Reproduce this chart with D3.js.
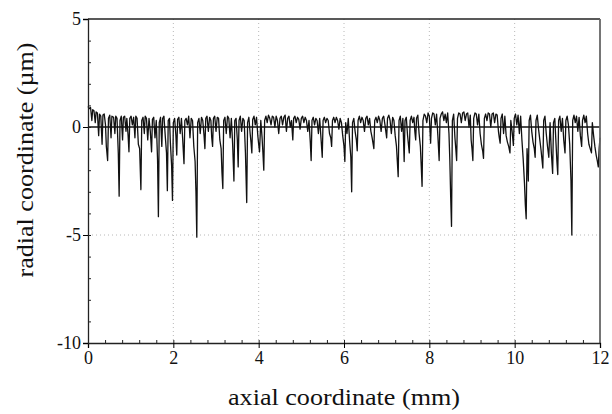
<!DOCTYPE html>
<html>
<head>
<meta charset="utf-8">
<script src="https://cdn.jsdelivr.net/npm/d3@7"></script>
<style>
  body { margin: 0; background: #fff; }
  svg { display: block; }
  text { font-family: "Liberation Serif", "DejaVu Serif", serif; fill: #111; }
</style>
</head>
<body>
<svg id="chart" width="612" height="414"></svg>
<script>
// tick values
var xTicks = [0, 2, 4, 6, 8, 10, 12]
var yTicks = [5, 0, -5, -10]
var xGrid = [2, 4, 6, 8, 10]
var yGrid = [-5]

// surface profile: [axial mm, radial um]
var profile = [
  [0.00, 0.95], [0.03, 0.85], [0.06, 0.9], [0.09, 0.3], [0.11, 0.8], [0.14, 0.75], [0.17, 0.2], [0.19, 0.7],
  [0.22, 0.65], [0.25, -0.4], [0.27, 0.6], [0.30, 0.5], [0.33, -0.8], [0.35, 0.55], [0.38, 0.6], [0.41, 0.1],
  [0.43, -0.9], [0.46, -1.55], [0.48, 0.4], [0.51, 0.55], [0.54, -0.5], [0.56, 0.5], [0.60, 0.45], [0.63, -0.3],
  [0.65, 0.5], [0.68, 0.4], [0.71, -1.2], [0.73, -3.2], [0.75, 0.3], [0.78, 0.5], [0.81, -0.6], [0.83, 0.45],
  [0.86, 0.5], [0.89, -0.2], [0.91, 0.4], [0.94, -0.4], [0.96, -1.15], [0.98, 0.4], [1.01, 0.5], [1.04, 0.1],
  [1.07, 0.45], [1.10, -0.5], [1.12, 0.5], [1.15, 0.4], [1.18, -0.8], [1.21, -1.0], [1.24, -2.9], [1.26, 0.3],
  [1.29, 0.45], [1.32, -0.3], [1.34, 0.5], [1.37, 0.4], [1.40, -0.6], [1.43, 0.4], [1.46, -0.2], [1.49, -1.15],
  [1.51, 0.35], [1.54, 0.45], [1.57, -0.5], [1.60, 0.3], [1.63, -1.5], [1.65, -4.15], [1.67, 0.2], [1.70, 0.45],
  [1.73, -0.9], [1.75, 0.4], [1.78, 0.5], [1.81, -0.4], [1.84, -1.2], [1.86, -2.95], [1.88, 0.3], [1.91, 0.4],
  [1.93, -0.7], [1.96, -1.8], [1.98, -3.4], [2.00, 0.2], [2.03, 0.4], [2.06, -0.4], [2.08, -1.3], [2.10, 0.35],
  [2.13, 0.45], [2.16, -0.3], [2.19, 0.4], [2.22, -0.6], [2.25, -1.7], [2.27, 0.3], [2.30, 0.4], [2.33, 0.1],
  [2.36, 0.5], [2.39, -0.5], [2.42, 0.4], [2.45, 0.3], [2.48, -0.9], [2.51, -1.6], [2.53, -3.0], [2.55, -5.1],
  [2.57, 0.2], [2.60, 0.4], [2.63, -0.3], [2.66, 0.45], [2.69, 0.3], [2.72, -0.4], [2.74, -1.0], [2.76, 0.4],
  [2.79, 0.5], [2.82, -0.2], [2.85, 0.45], [2.88, 0.3], [2.90, -0.5], [2.92, -0.9], [2.94, 0.4], [2.97, 0.5],
  [3.00, -0.2], [3.03, 0.45], [3.06, 0.4], [3.09, -0.6], [3.12, -1.0], [3.14, -2.1], [3.16, -2.85], [3.18, 0.3],
  [3.21, 0.45], [3.24, -0.3], [3.27, 0.5], [3.30, 0.4], [3.33, -0.5], [3.36, 0.4], [3.39, -0.8], [3.42, -2.5],
  [3.44, 0.3], [3.47, 0.4], [3.50, -0.6], [3.52, -1.85], [3.54, 0.3], [3.57, 0.5], [3.60, -0.2], [3.63, 0.4],
  [3.66, 0.3], [3.69, -1.2], [3.72, -3.5], [3.74, 0.2], [3.77, 0.45], [3.80, -0.3], [3.82, -0.7], [3.84, -1.2],
  [3.86, 0.35], [3.89, 0.5], [3.92, 0.1], [3.95, 0.45], [3.98, -0.4], [4.00, -0.8], [4.02, -1.15], [4.05, 0.3],
  [4.08, -0.5], [4.10, -1.2], [4.12, -2.0], [4.14, 0.3], [4.17, 0.5], [4.20, 0.2], [4.23, 0.55], [4.26, 0.4],
  [4.29, 0.1], [4.32, 0.5], [4.35, 0.45], [4.38, 0.0], [4.41, 0.5], [4.44, 0.3], [4.47, -0.3], [4.50, 0.4],
  [4.53, 0.5], [4.56, 0.1], [4.59, 0.45], [4.62, 0.55], [4.65, -0.2], [4.68, 0.4], [4.71, 0.5], [4.74, 0.0],
  [4.77, 0.3], [4.80, -0.6], [4.82, 0.4], [4.85, 0.5], [4.88, 0.2], [4.91, 0.45], [4.94, 0.35], [4.97, -0.1],
  [5.00, 0.4], [5.03, 0.5], [5.06, 0.2], [5.09, 0.45], [5.12, 0.3], [5.15, -0.2], [5.18, 0.3], [5.21, -0.7],
  [5.23, -1.55], [5.25, 0.3], [5.28, 0.45], [5.31, 0.1], [5.34, 0.4], [5.37, 0.3], [5.40, -0.3], [5.43, 0.4],
  [5.46, -0.5], [5.49, -1.4], [5.51, 0.3], [5.54, 0.45], [5.57, 0.2], [5.60, 0.4], [5.63, 0.3], [5.66, -0.3],
  [5.69, -0.5], [5.71, -0.9], [5.73, 0.3], [5.76, 0.45], [5.79, 0.2], [5.82, 0.45], [5.85, 0.3], [5.88, -0.1],
  [5.91, 0.4], [5.94, 0.2], [5.97, -0.4], [6.00, -0.9], [6.02, -1.6], [6.04, 0.2], [6.07, -0.3], [6.10, 0.4],
  [6.13, -0.6], [6.16, -1.4], [6.18, -3.0], [6.20, 0.2], [6.23, 0.4], [6.26, -0.2], [6.29, -0.6], [6.31, -1.1],
  [6.33, 0.3], [6.36, 0.5], [6.39, 0.2], [6.42, 0.45], [6.45, 0.3], [6.48, -0.2], [6.51, 0.4], [6.54, 0.5],
  [6.57, 0.1], [6.60, 0.4], [6.63, -0.2], [6.66, -0.5], [6.70, -1.0], [6.72, 0.3], [6.75, 0.45], [6.78, 0.2],
  [6.81, 0.5], [6.84, 0.3], [6.87, -0.2], [6.90, 0.4], [6.93, 0.5], [6.96, 0.1], [6.98, -0.2], [7.00, -0.5],
  [7.02, 0.4], [7.05, 0.55], [7.08, 0.3], [7.11, -0.3], [7.14, 0.45], [7.17, 0.3], [7.20, -0.4], [7.23, -0.9],
  [7.25, -1.6], [7.27, -2.3], [7.29, 0.3], [7.32, 0.5], [7.35, -0.2], [7.38, 0.4], [7.41, -1.6], [7.43, 0.3],
  [7.46, 0.45], [7.49, -0.4], [7.51, -0.8], [7.53, -1.2], [7.55, 0.3], [7.58, 0.5], [7.61, 0.2], [7.64, 0.45],
  [7.66, -0.2], [7.68, -0.6], [7.70, 0.4], [7.73, 0.55], [7.76, -0.3], [7.79, -0.9], [7.81, -1.8], [7.83, -2.75],
  [7.85, 0.3], [7.88, 0.6], [7.91, 0.5], [7.94, 0.2], [7.97, 0.65], [8.00, 0.5], [8.03, -0.75], [8.05, 0.4],
  [8.08, 0.65], [8.11, 0.6], [8.14, 0.1], [8.17, 0.6], [8.20, -0.4], [8.23, -1.55], [8.25, 0.4], [8.28, 0.6],
  [8.31, 0.7], [8.34, 0.3], [8.37, 0.6], [8.40, 0.2], [8.43, 0.65], [8.46, -0.3], [8.48, -1.5], [8.50, -3.2],
  [8.52, -4.6], [8.54, 0.3], [8.57, 0.6], [8.60, -0.5], [8.62, -1.0], [8.64, -1.55], [8.66, 0.4], [8.69, 0.65],
  [8.72, 0.6], [8.75, 0.2], [8.78, 0.65], [8.81, 0.7], [8.84, 0.3], [8.87, 0.6], [8.90, 0.65], [8.93, 0.0],
  [8.96, 0.55], [8.98, -0.6], [9.00, -1.0], [9.02, -1.55], [9.04, 0.4], [9.07, 0.65], [9.10, 0.6], [9.13, 0.1],
  [9.16, 0.6], [9.19, -0.3], [9.22, -0.8], [9.25, -1.1], [9.27, -1.45], [9.29, 0.4], [9.32, 0.6], [9.35, 0.3],
  [9.38, 0.65], [9.41, 0.6], [9.44, 0.0], [9.47, 0.6], [9.50, 0.65], [9.53, 0.2], [9.56, 0.6], [9.59, 0.55],
  [9.62, -0.2], [9.64, -0.5], [9.66, -0.75], [9.68, 0.4], [9.71, 0.6], [9.74, -0.3], [9.77, 0.5], [9.80, -0.4],
  [9.83, -0.7], [9.86, -0.9], [9.89, -1.2], [9.91, 0.3], [9.94, -0.2], [9.97, -0.85], [9.99, 0.4], [10.02, 0.6],
  [10.05, 0.1], [10.08, 0.55], [10.11, -0.3], [10.14, 0.5], [10.17, -0.6], [10.20, -1.5], [10.23, -2.6], [10.25, -3.6],
  [10.27, -4.25], [10.29, -1.0], [10.31, -1.8], [10.32, -2.5], [10.34, 0.3], [10.37, 0.55], [10.40, -0.2], [10.43, -0.7],
  [10.46, -1.0], [10.48, -1.4], [10.50, 0.3], [10.53, 0.55], [10.56, -0.1], [10.59, -0.6], [10.62, -1.1], [10.64, -1.5],
  [10.66, -1.9], [10.68, 0.3], [10.71, 0.5], [10.74, -0.3], [10.77, -0.9], [10.80, -1.4], [10.83, 0.2], [10.86, -1.2],
  [10.89, -2.15], [10.91, 0.2], [10.94, 0.4], [10.97, -0.8], [10.99, -1.6], [11.01, -2.2], [11.03, 0.3], [11.06, 0.5],
  [11.09, -0.2], [11.12, 0.4], [11.15, -0.6], [11.18, -1.2], [11.20, 0.3], [11.23, 0.5], [11.26, 0.1], [11.29, -0.8],
  [11.32, -2.5], [11.34, -5.0], [11.36, 0.3], [11.39, 0.55], [11.42, 0.2], [11.45, 0.5], [11.48, -0.2], [11.51, 0.45],
  [11.54, -0.4], [11.57, -0.9], [11.59, 0.3], [11.62, 0.55], [11.65, 0.2], [11.68, 0.5], [11.71, -0.3], [11.74, -0.8],
  [11.77, -1.0], [11.80, -1.2], [11.82, 0.2], [11.85, -0.4], [11.88, -0.9], [11.91, -1.3], [11.94, -1.6], [11.96, -1.85],
  [11.98, -1.0], [12.00, -0.5]
]

var margin = { top: 19, left: 88, right: 12, bottom: 71 }
var width = 612 - margin.left - margin.right
var height = 414 - margin.top - margin.bottom

var svg = d3.select("#chart")
var g = svg.append("g")
    .attr("transform", "translate(" + margin.left + "," + margin.top + ")")

var x = d3.scaleLinear().domain([0, 12]).range([0, width])
var y = d3.scaleLinear().domain([-10, 5]).range([height, 0])

// dotted grid
g.selectAll(".xgrid")
    .data(xGrid)
    .join("line")
    .attr("x1", d => x(d)).attr("x2", d => x(d))
    .attr("y1", 0).attr("y2", height)
    .attr("stroke", "#b8b8b8")
    .attr("stroke-width", 1)
    .attr("stroke-dasharray", "1,3")

g.selectAll(".ygrid")
    .data(yGrid)
    .join("line")
    .attr("x1", 0).attr("x2", width)
    .attr("y1", d => y(d)).attr("y2", d => y(d))
    .attr("stroke", "#b8b8b8")
    .attr("stroke-width", 1)
    .attr("stroke-dasharray", "1,3")

// profile trace
var line = d3.line()
    .x(d => x(d[0]))
    .y(d => y(d[1]))

g.append("path")
    .datum(profile)
    .attr("d", line)
    .attr("fill", "none")
    .attr("stroke", "#111")
    .attr("stroke-width", 1.3)
    .attr("stroke-linejoin", "round")

// zero line
g.append("line")
    .attr("x1", 0).attr("x2", width)
    .attr("y1", y(0)).attr("y2", y(0))
    .attr("stroke", "#111")
    .attr("stroke-width", 1.4)

// frame: top and right
g.append("line")
    .attr("x1", 0).attr("x2", width)
    .attr("y1", 0).attr("y2", 0)
    .attr("stroke", "#222").attr("stroke-width", 1.3)
g.append("line")
    .attr("x1", width).attr("x2", width)
    .attr("y1", 0).attr("y2", height)
    .attr("stroke", "#666").attr("stroke-width", 1.8)

// minor ticks, inward
g.append("g")
    .attr("transform", "translate(0," + height + ")")
    .call(d3.axisTop(x).tickValues(d3.range(0.4, 12, 0.4)).tickSize(3).tickFormat(""))
    .call(a => a.select(".domain").remove())
    .selectAll("line").attr("stroke", "#222")

g.append("g")
    .call(d3.axisRight(y).tickValues(d3.range(-9, 5, 1)).tickSize(3).tickFormat(""))
    .call(a => a.select(".domain").remove())
    .selectAll("line").attr("stroke", "#222")

// major axes
var xAxis = g.append("g")
    .attr("transform", "translate(0," + height + ")")
    .call(d3.axisBottom(x).tickValues(xTicks).tickSize(5).tickPadding(3))
xAxis.select(".domain").attr("stroke", "#222").attr("stroke-width", 1.3)
xAxis.selectAll("text").style("font-size", "18px").style("font-family", "Liberation Serif").attr("fill", "#111")

var yAxis = g.append("g")
    .call(d3.axisLeft(y).tickValues(yTicks).tickSize(5).tickPadding(2))
yAxis.select(".domain").attr("stroke", "#222").attr("stroke-width", 1.3)
yAxis.selectAll("text").style("font-size", "18px").style("font-family", "Liberation Serif").attr("fill", "#111")
    .text(d => d < 0 ? "-" + Math.abs(d) : d)

// axis titles
svg.append("text")
    .attr("x", margin.left + width / 2)
    .attr("y", 405)
    .attr("text-anchor", "middle")
    .style("font-size", "23px")
    .attr("textLength", 232)
    .attr("lengthAdjust", "spacingAndGlyphs")
    .text("axial coordinate (mm)")

svg.append("text")
    .attr("transform", "translate(33,160) rotate(-90)")
    .attr("text-anchor", "middle")
    .style("font-size", "23px")
    .attr("textLength", 235)
    .attr("lengthAdjust", "spacingAndGlyphs")
    .text("radial coordinate (\u00b5m)")
</script>
</body>
</html>
